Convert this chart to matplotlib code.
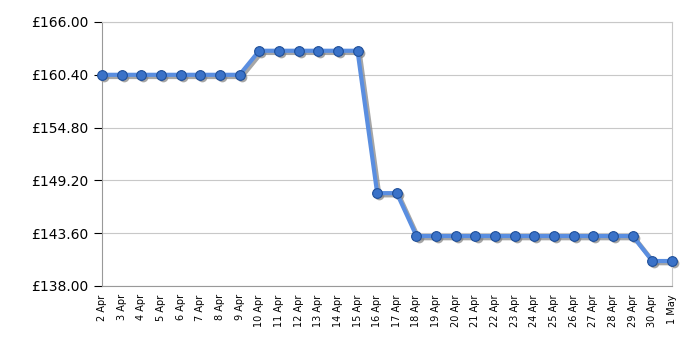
import matplotlib
matplotlib.use("Agg")
import matplotlib.pyplot as plt
import matplotlib.transforms as mtrans
import numpy as np

dates = ["2 Apr", "3 Apr", "4 Apr", "5 Apr", "6 Apr", "7 Apr", "8 Apr", "9 Apr",
         "10 Apr", "11 Apr", "12 Apr", "13 Apr", "14 Apr", "15 Apr", "16 Apr",
         "17 Apr", "18 Apr", "19 Apr", "20 Apr", "21 Apr", "22 Apr", "23 Apr",
         "24 Apr", "25 Apr", "26 Apr", "27 Apr", "28 Apr", "29 Apr", "30 Apr", "1 May"]
prices = [160.40] * 8 + [162.95] * 6 + [147.85] * 2 + [143.30] * 12 + [140.65] * 2
yticks = [138.00, 143.60, 149.20, 154.80, 160.40, 166.00]

fig = plt.figure(figsize=(7, 3.5), dpi=100)
ax = fig.add_axes([102/700, 64/350, 570/700, 264/350])
x = np.arange(len(dates))

shadow = ax.transData + mtrans.ScaledTranslation(1.5/72, -1.5/72, fig.dpi_scale_trans)
ax.plot(x, prices, color="#808080", lw=3.2, alpha=0.7, marker="o", ms=7,
        markeredgewidth=0, transform=shadow, zorder=2, clip_on=False)
ax.plot(x, prices, color="#5a8ee0", lw=3, marker="o", ms=7,
        markerfacecolor="#3a72c8", markeredgecolor="#1f4f99", markeredgewidth=0.8,
        zorder=3, clip_on=False)

ax.set_xlim(0, len(dates) - 1)
ax.set_ylim(138, 166)
ax.set_yticks(yticks)
ax.set_yticklabels([f"£{v:.2f}" for v in yticks], fontsize=10)
ax.set_xticks(x)
ax.set_xticklabels(dates, rotation=90, fontsize=7)
ax.set_xticks(x[2::3], minor=True)
ax.tick_params(axis="x", which="major", length=0, pad=6)
ax.tick_params(axis="x", which="minor", length=5, color="black", direction="out")
ax.tick_params(axis="y", length=6, color="black", direction="out")
ax.grid(True, which="minor", axis="x", color="#c8c8c8", lw=0.8)
ax.grid(True, which="major", axis="y", color="#c8c8c8", lw=0.8)
for s in ["top", "right"]:
    ax.spines[s].set_color("#c8c8c8")
for s in ["left", "bottom"]:
    ax.spines[s].set_color("#999999")
fig.savefig("out.png", dpi=100)
